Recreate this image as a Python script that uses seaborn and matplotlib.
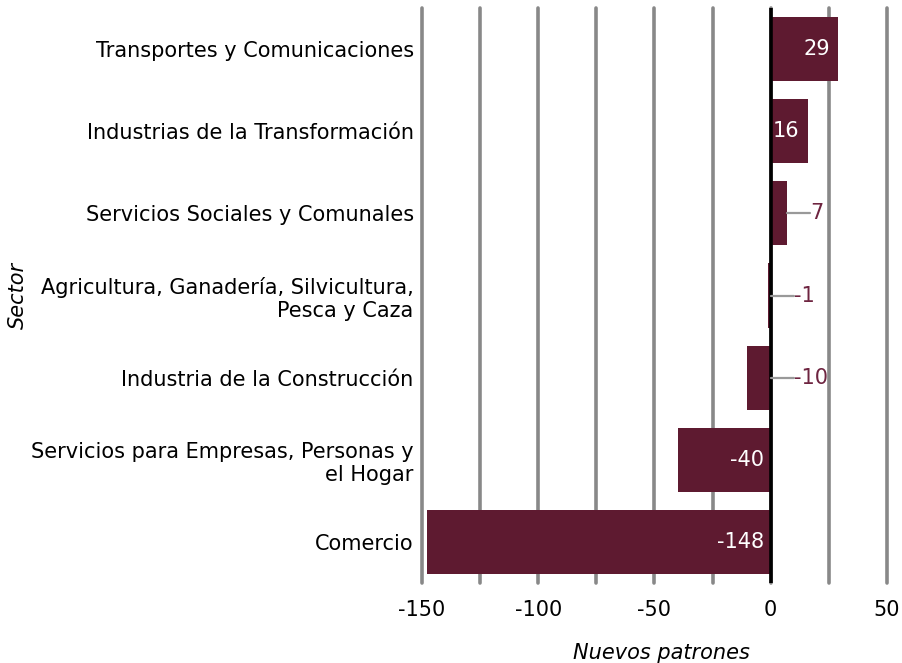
import matplotlib
matplotlib.use("Agg")
import matplotlib.pyplot as plt
import seaborn as sns
import pandas as pd
import numpy as np

sectors = [
    "Transportes y Comunicaciones",
    "Industrias de la Transformación",
    "Servicios Sociales y Comunales",
    "Agricultura, Ganadería, Silvicultura,\nPesca y Caza",
    "Industria de la Construcción",
    "Servicios para Empresas, Personas y\nel Hogar",
    "Comercio",
]
values = [29, 16, 7, -1, -10, -40, -148]
major_ticks = [-150, -100, -50, 0, 50]
tick_labels = ["-150", "-100", "-50", "0", "50"]

BAR = "#5E1A30"
LABEL_OUT = "#6E2440"

sns.set_theme(style="white")
plt.rcParams["font.family"] = ["DejaVu Sans"]

df = pd.DataFrame({"Sector": sectors, "Nuevos patrones": values})

fig = plt.figure(figsize=(9.03, 6.63), dpi=100)
ax = fig.add_axes([422 / 903, 80 / 663, 478 / 903, 575 / 663])

sns.barplot(data=df, x="Nuevos patrones", y="Sector", orient="h",
            color=BAR, saturation=1, width=0.78, linewidth=0, ax=ax, zorder=3)

ax.set_xlim(-150, 55.6)
ax.set_ylim(6.5, -0.5)
ax.set_xticks(major_ticks)
ax.set_xticklabels(tick_labels)
ax.set_xticks(np.arange(-150, 51, 25), minor=True)
ax.grid(False)
ax.xaxis.grid(True, which="both", color="#888888", linewidth=2.6, zorder=0)
for t in ax.xaxis.get_major_ticks() + ax.xaxis.get_minor_ticks():
    t.gridline.set_clip_on(False)
ax.set_axisbelow(True)
ax.axvline(0, color="black", linewidth=2.6, zorder=4)
for s in ax.spines.values():
    s.set_visible(False)
ax.tick_params(axis="both", which="both", length=0)
ax.tick_params(axis="x", labelsize=15, pad=12, colors="black")
ax.tick_params(axis="y", labelsize=15, pad=6, colors="black")
for lab in ax.get_yticklabels():
    lab.set_multialignment("right")

ax.set_xlabel("Nuevos patrones", fontsize=15, style="italic", labelpad=17,
              color="black")
ax.set_ylabel("Sector", fontsize=15, style="italic", labelpad=2, color="black")

for i, v in enumerate(values):
    if abs(v) >= 15:
        x = v - 3.5 if v > 0 else -3.0
        ax.text(x, i, f"{v}", ha="right", va="center", color="white",
                fontsize=15, zorder=5)
    else:
        start = max(v, 0)
        end = start + 10
        ax.plot([start, end], [i, i], color="#999999", linewidth=1.6, zorder=5)
        ax.text(end, i, f"{v}", ha="left", va="center", color=LABEL_OUT,
                fontsize=15, zorder=5)

fig.savefig("out.png", dpi=100)
